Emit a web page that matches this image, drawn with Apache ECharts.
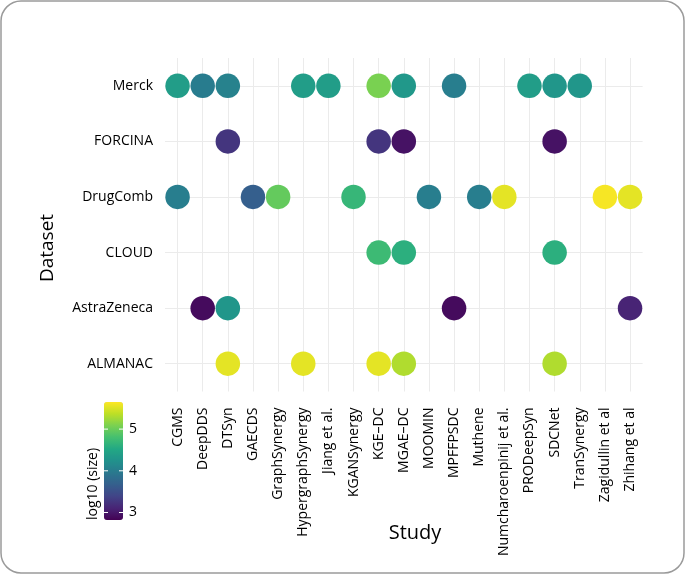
<!DOCTYPE html>
<html>
<head>
<meta charset="utf-8">
<script src="https://cdn.jsdelivr.net/npm/echarts@6/dist/echarts.min.js"></script>
<style>
html,body{margin:0;padding:0;background:#fff;}
#chart{width:685px;height:575px;}
</style>
</head>
<body>
<div id="chart"></div>
<script>
const studies = ["CGMS","DeepDDS","DTSyn","GAECDS","GraphSynergy","HypergraphSynergy","Jiang et al.","KGANSynergy","KGE\u2013DC","MGAE\u2013DC","MOOMIN","MPFFPSDC","Muthene","Numcharoenpinij et al.","PRODeepSyn","SDCNet","TranSynergy","Zagidullin et al","Zhihang et al"];
const datasets = ["ALMANAC","AstraZeneca","CLOUD","DrugComb","FORCINA","Merck"];

// [study, log10(size)] per dataset
const merck = [["CGMS",4.38],["DeepDDS",4.0],["DTSyn",4.06],["HypergraphSynergy",4.38],["Jiang et al.",4.38],["KGE\u2013DC",5.08],["MGAE\u2013DC",4.32],["MPFFPSDC",4.02],["PRODeepSyn",4.38],["SDCNet",4.3],["TranSynergy",4.3]];
const forcina = [["DTSyn",3.25],["KGE\u2013DC",3.25],["MGAE\u2013DC",2.96],["SDCNet",2.96]];
const drugcomb = [["CGMS",4.02],["GAECDS",3.67],["GraphSynergy",4.97],["KGANSynergy",4.69],["MOOMIN",4.02],["Muthene",4.02],["Numcharoenpinij et al.",5.54],["Zagidullin et al",5.62],["Zhihang et al",5.54]];
const cloud = [["KGE\u2013DC",4.74],["MGAE\u2013DC",4.6],["SDCNet",4.6]];
const astrazeneca = [["DeepDDS",2.9],["DTSyn",4.3],["MPFFPSDC",2.9],["Zhihang et al",3.1]];
const almanac = [["DTSyn",5.54],["HypergraphSynergy",5.54],["KGE\u2013DC",5.54],["MGAE\u2013DC",5.31],["SDCNet",5.31]];

const colorTicks = [3,4,5];
const colorMin = 2.82, colorMax = 5.65;

const groups = {"Merck":merck,"FORCINA":forcina,"DrugComb":drugcomb,"CLOUD":cloud,"AstraZeneca":astrazeneca,"ALMANAC":almanac};
const points = [];
Object.keys(groups).forEach(ds => groups[ds].forEach(p => points.push([p[0], ds, p[1]])));

const viridis = ['#440154','#482475','#414487','#355F8D','#2A788E','#21918C','#22A884','#44BF70','#7AD151','#BDDF26','#FDE725'];

const FONT = '"Open Sans", "DejaVu Sans", sans-serif';
const cbTop = 402, cbH = 118, cbLeft = 104, cbW = 19;
const cbY = v => cbTop + cbH * (colorMax - v) / (colorMax - colorMin);

const graphics = [
  {type:'rect', shape:{x:1, y:1, width:683, height:572, r:20}, style:{fill:'none', stroke:'#9a9a9a', lineWidth:1.5}, z:-1},
  {type:'text', x:48, y:248, rotation:Math.PI/2, style:{text:'Dataset', font:'19px '+FONT, fill:'#000', align:'center', verticalAlign:'middle'}},
  {type:'text', x:415, y:533, style:{text:'Study', font:'20px '+FONT, fill:'#000', align:'center', verticalAlign:'middle'}},
  {type:'text', x:93, y:520, rotation:Math.PI/2, style:{text:'log10 (size)', font:'14px '+FONT, fill:'#000', align:'left', verticalAlign:'middle'}}
];
colorTicks.forEach(t => {
  const y = cbY(t);
  graphics.push({type:'text', x:129, y:y, style:{text:String(t), font:'14px '+FONT, fill:'#000', align:'left', verticalAlign:'middle'}, z:10});
  graphics.push({type:'line', shape:{x1:cbLeft, y1:y, x2:cbLeft+4, y2:y}, style:{stroke:'#fff', lineWidth:1}, z:10});
  graphics.push({type:'line', shape:{x1:cbLeft+cbW-4, y1:y, x2:cbLeft+cbW, y2:y}, style:{stroke:'#fff', lineWidth:1}, z:10});
});

const chart = echarts.init(document.getElementById('chart'), null, {renderer:'canvas'});
chart.setOption({
  animation:false,
  backgroundColor:'#fff',
  textStyle:{fontFamily:FONT},
  grid:{left:165, right:42.4, top:58, bottom:183.5, containLabel:false},
  xAxis:{
    type:'category', data:studies, boundaryGap:true,
    axisLine:{show:false}, axisTick:{show:false},
    axisLabel:{rotate:90, interval:0, margin:16, color:'#000', fontSize:14, fontFamily:FONT},
    splitLine:{show:true, alignWithLabel:true, lineStyle:{color:'#ebebeb', width:1}}
  },
  yAxis:{
    type:'category', data:datasets, boundaryGap:true,
    axisLine:{show:false}, axisTick:{show:false},
    axisLabel:{interval:0, margin:12, color:'#000', fontSize:14, fontFamily:FONT},
    splitLine:{show:true, alignWithLabel:true, lineStyle:{color:'#ebebeb', width:1}}
  },
  visualMap:{
    type:'continuous', min:colorMin, max:colorMax, dimension:2,
    left:cbLeft, top:cbTop, itemWidth:cbW, itemHeight:cbH, padding:0,
    text:null, showLabel:false, calculable:false, hoverLink:false,
    inRange:{color:viridis}, textStyle:{color:'transparent'}
  },
  series:[{
    type:'scatter', data:points, symbolSize:24.5,
    itemStyle:{opacity:1}
  }],
  graphic:graphics
});
</script>
</body>
</html>
